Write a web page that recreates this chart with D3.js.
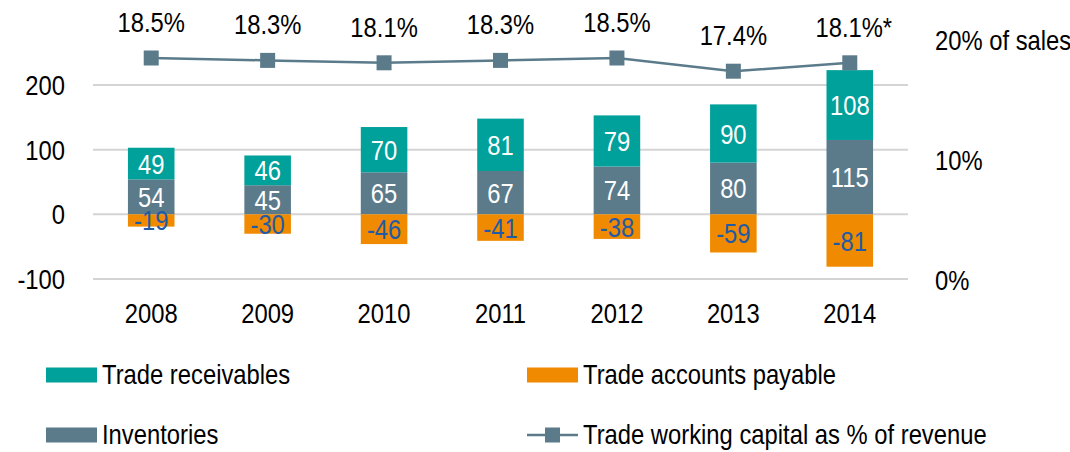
<!DOCTYPE html>
<html>
<head>
<meta charset="utf-8">
<script src="https://cdn.jsdelivr.net/npm/d3@7"></script>
<style>
  html, body { margin: 0; padding: 0; background: #fff; }
  svg text { font-family: "Liberation Sans", Arial, sans-serif; }
</style>
</head>
<body>
<svg id="chart" width="1070" height="452"></svg>
<script>
// Trade working capital components (EUR m) and ratio to revenue
const years = ["2008", "2009", "2010", "2011", "2012", "2013", "2014"];
const receivables = [49, 46, 70, 81, 79, 90, 108];
const inventories = [54, 45, 65, 67, 74, 80, 115];
const payables = [-19, -30, -46, -41, -38, -59, -81];
const pctOfRevenue = [18.5, 18.3, 18.1, 18.3, 18.5, 17.4, 18.1];
const pctLabels = ["18.5%", "18.3%", "18.1%", "18.3%", "18.5%", "17.4%", "18.1%*"];
const leftTicks = [-100, 0, 100, 200];
const rightTicks = [0, 10, 20];
const rightTickLabels = ["0%", "10%", "20% of sales"];

const colors = {
  receivables: "#00A09B",
  inventories: "#5B7B8B",
  payables: "#F08A00",
  line: "#5B7B8B",
  negLabel: "#1F5BA6",
  grid: "#D4D4D4"
};

const FS = 28;      // font size
const SX = 0.85;    // horizontal condensing of the typeface
const CAP = 10;     // half cap height, for vertical centring of digits

const svg = d3.select("#chart");

function label(g, x, y, s, anchor, fill) {
  return g.append("text")
    .attr("transform", `translate(${x},${y}) scale(${SX},1)`)
    .attr("text-anchor", anchor)
    .attr("font-size", FS)
    .attr("fill", fill)
    .text(s);
}

const x = d3.scaleBand().domain(years).range([93, 908]).paddingInner(0.6).paddingOuter(0.3);
const yL = d3.scaleLinear().domain([-100, 200]).range([279, 85]);
const yR = d3.scaleLinear().domain([0, 20]).range([280, 40]);

// gridlines
const grid = svg.append("g");
grid.selectAll("line").data(leftTicks).join("line")
  .attr("x1", 93).attr("x2", 908)
  .attr("y1", d => yL(d)).attr("y2", d => yL(d))
  .attr("stroke", colors.grid).attr("stroke-width", 2);

// left axis labels
const axL = svg.append("g");
leftTicks.forEach(t => label(axL, 65, yL(t) + CAP, String(t), "end", "#000"));

// right axis labels
const axR = svg.append("g");
rightTicks.forEach((t, i) => label(axR, 935, yR(t) + CAP, rightTickLabels[i], "start", "#000"));

// stacked bars
const bw = x.bandwidth();
const bars = svg.append("g");
const segs = [];
years.forEach((yr, i) => {
  segs.push({ yr, y0: 0, y1: inventories[i], v: inventories[i], c: colors.inventories, t: "#fff" });
  segs.push({ yr, y0: inventories[i], y1: inventories[i] + receivables[i], v: receivables[i], c: colors.receivables, t: "#fff" });
  segs.push({ yr, y0: payables[i], y1: 0, v: payables[i], c: colors.payables, t: colors.negLabel });
});
bars.selectAll("rect").data(segs).join("rect")
  .attr("x", d => x(d.yr))
  .attr("width", bw)
  .attr("y", d => yL(d.y1))
  .attr("height", d => yL(d.y0) - yL(d.y1))
  .attr("fill", d => d.c);

const barLabels = svg.append("g");
segs.forEach(d => {
  const cy = (yL(d.y0) + yL(d.y1)) / 2;
  label(barLabels, x(d.yr) + bw / 2, cy + CAP, String(d.v), "middle", d.t);
});

// x axis year labels
const axX = svg.append("g");
years.forEach(yr => label(axX, x(yr) + bw / 2, 323, yr, "middle", "#000"));

// ratio line with square markers
const cx = i => x(years[i]) + bw / 2;
const lineGen = d3.line().x((d, i) => cx(i)).y(d => yR(d));
svg.append("path").datum(pctOfRevenue)
  .attr("d", lineGen)
  .attr("fill", "none")
  .attr("stroke", colors.line)
  .attr("stroke-width", 2.5);
svg.append("g").selectAll("rect").data(pctOfRevenue).join("rect")
  .attr("x", (d, i) => cx(i) - 7.5)
  .attr("y", d => yR(d) - 7.5)
  .attr("width", 15).attr("height", 15)
  .attr("fill", colors.line);

const pctG = svg.append("g");
pctOfRevenue.forEach((v, i) => {
  const extra = pctLabels[i].endsWith("*") ? 4 : 0;
  label(pctG, cx(i) + extra, yR(v) - 26, pctLabels[i], "middle", "#000");
});

// legend
const legend = svg.append("g");
const items = [
  { name: "Trade receivables", kind: "bar", c: colors.receivables, x: 46, y: 375 },
  { name: "Trade accounts payable", kind: "bar", c: colors.payables, x: 527, y: 375 },
  { name: "Inventories", kind: "bar", c: colors.inventories, x: 46, y: 435 },
  { name: "Trade working capital as % of revenue", kind: "line", c: colors.line, x: 527, y: 435 }
];
items.forEach(it => {
  if (it.kind === "bar") {
    legend.append("rect").attr("x", it.x).attr("y", it.y - 7.5)
      .attr("width", 51).attr("height", 15).attr("fill", it.c);
  } else {
    legend.append("line").attr("x1", it.x).attr("x2", it.x + 51)
      .attr("y1", it.y).attr("y2", it.y)
      .attr("stroke", it.c).attr("stroke-width", 2.5);
    legend.append("rect").attr("x", it.x + 25.5 - 7.5).attr("y", it.y - 7.5)
      .attr("width", 15).attr("height", 15).attr("fill", it.c);
  }
  label(legend, it.x + 56, it.y + 8.5, it.name, "start", "#000");
});
</script>
</body>
</html>
